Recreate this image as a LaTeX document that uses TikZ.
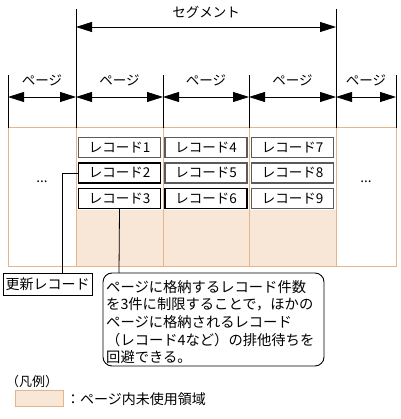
\documentclass[tikz,border=0pt]{standalone}
\usepackage{fontspec}
\setmainfont{Noto Sans CJK JP}
\usetikzlibrary{arrows.meta}
\definecolor{orfill}{HTML}{F8E6D6}
\definecolor{oredge}{HTML}{E3B58C}
\definecolor{recgray}{HTML}{5A5A5A}
\begin{document}
\begin{tikzpicture}[x=1pt,y=-1pt,
  dim/.style={{Triangle[length=16pt,width=10pt]}-{Triangle[length=16pt,width=10pt]}, line width=0.8pt},
  guide/.style={line width=0.8pt},
  rec/.style={draw, line width=1.1pt, minimum width=82pt, minimum height=20pt, inner sep=0pt, font=\fontsize{13.5}{14}\selectfont},
  recg/.style={rec, draw=recgray, line width=1.3pt},
  lbl/.style={font=\fontsize{13.5}{14}\selectfont, inner sep=0pt},
  orline/.style={draw=oredge, line width=1pt},
  conn/.style={line width=0.8pt}
]
\useasboundingbox (0,0) rectangle (400,419);

% orange page area
\fill[orfill] (76,210) rectangle (336,266);
\draw[orline] (8,128) rectangle (396,266);
\foreach \x in {76,163,249,336} \draw[orline] (\x,128) -- (\x,266);

% guide lines
\coordinate (sgL) at (76,9);
\coordinate (sgR) at (336,9);
\draw[guide] (sgL) -- (76,128);
\draw[guide] (sgR) -- (336,128);
\foreach \x in {8,163,249,396} \draw[guide] (\x,75) -- (\x,128);

% segment dimension
\coordinate (sa) at (76,27);
\coordinate (sb) at (336,27);
\draw[dim] (sa) -- (sb);
\node[lbl] (seg) at (206,12) {セグメント};

% page dimensions
\coordinate (p0) at (8,97);
\coordinate (p1) at (76,97);
\coordinate (p2) at (163,97);
\coordinate (p3) at (249,97);
\coordinate (p4) at (336,97);
\coordinate (p5) at (396,97);
\draw[dim] (p0) -- (p1);
\draw[dim] (p1) -- (p2);
\draw[dim] (p2) -- (p3);
\draw[dim] (p3) -- (p4);
\draw[dim] (p4) -- (p5);
\node[lbl] (pg0) at (42,80) {ページ};
\node[lbl] (pg1) at (119.5,80) {ページ};
\node[lbl] (pg2) at (206,80) {ページ};
\node[lbl] (pg3) at (292.5,80) {ページ};
\node[lbl] (pg4) at (366,80) {ページ};

% records
\node[recg] (r1) at (119.5,147.5) {レコード1};
\node[rec]  (r2) at (119.5,173) {レコード2};
\node[rec]  (r3) at (119.5,198.5) {レコード3};
\node[recg] (r4) at (206,147.5) {レコード4};
\node[recg] (r5) at (206,173) {レコード5};
\node[rec]  (r6) at (206,198.5) {レコード6};
\node[recg] (r7) at (292.5,147.5) {レコード7};
\node[recg] (r8) at (292.5,173) {レコード8};
\node[recg] (r9) at (292.5,198.5) {レコード9};

\node[lbl] (dl) at (42,182) {...};
\node[lbl] (dr) at (366,182) {...};

% labels
\node[draw, line width=0.9pt, minimum width=89pt, minimum height=22pt, inner sep=0pt,
      font=\fontsize{14}{16}\selectfont] (upd) at (47.5,284) {更新レコード};
\draw[conn] (r2.west) -- (62,173) -- (62,273);

\draw[draw, line width=0.9pt, rounded corners=9pt] (103,273) rectangle (324,366);
\coordinate (noteTop) at (119,273);
\node[inner sep=0pt, anchor=west, align=left, font=\fontsize{14.3}{17.7}\selectfont] (note) at (106,322)
 {ページに格納するレコード件数\\を3件に制限することで，ほかの\\ページに格納されるレコード\\（レコード4など）の排他待ちを\\回避できる。};
\draw[conn] (r3.south) -- (noteTop);

% legend
\node[lbl, anchor=west, font=\fontsize{13}{14}\selectfont] (leg) at (6,382) {（凡例）};
\node[fill=orfill, draw=oredge, line width=0.9pt, minimum width=48pt, minimum height=16pt, inner sep=0pt] (legbox) at (39,398) {};
\node[lbl, anchor=west, font=\fontsize{14}{16}\selectfont] (legtxt) at (66,399) {：ページ内未使用領域};
\end{tikzpicture}
\end{document}
